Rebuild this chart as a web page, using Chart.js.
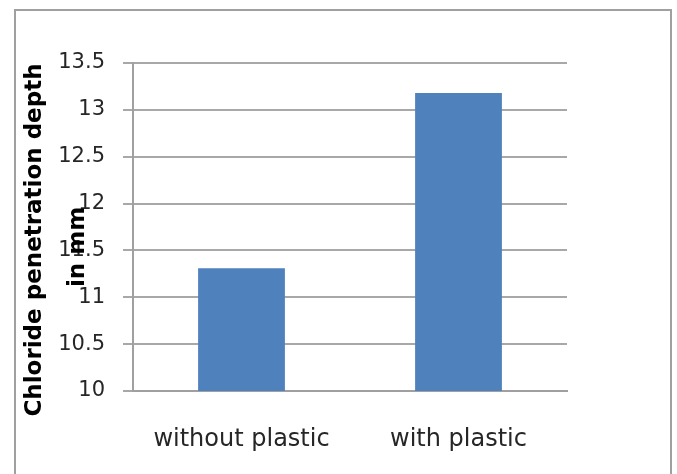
<!DOCTYPE html>
<html>
<head>
<meta charset="utf-8">
<script src="https://cdn.jsdelivr.net/npm/chart.js@4"></script>
<style>
  html, body { margin: 0; padding: 0; background: #fff; }
  #wrap { position: relative; width: 677px; height: 474px; overflow: hidden; }
  #frame { position: absolute; left: 14px; top: 9px; width: 658px; height: 480px;
           border: 2px solid #a0a0a0; box-sizing: border-box; pointer-events: none; }
  canvas { position: absolute; left: 0; top: 0; }
</style>
</head>
<body>
<div id="wrap">
  <canvas id="c" width="677" height="474"></canvas>
  <div id="frame"></div>
</div>
<script>
// Chloride penetration depth for concrete with and without plastic
const categories = ['without plastic', 'with plastic'];
const depthValues = [11.31, 13.18];
const yTickValues = [10, 10.5, 11, 11.5, 12, 12.5, 13, 13.5];
const yTitleLines = ['Chloride penetration depth', 'in mm'];

const FONT = "'DejaVu Sans', 'Liberation Sans', sans-serif";

// Rotated two-line axis title, drawn over the tick labels area
const yTitlePlugin = {
  id: 'yTitle',
  afterDraw(chart) {
    const { ctx, chartArea } = chart;
    const mid = (chartArea.top + chartArea.bottom) / 2;
    const spots = [
      { x: chartArea.left - 98, y: mid + 13 },
      { x: chartArea.left - 55, y: mid + 20 }
    ];
    ctx.save();
    ctx.fillStyle = '#000';
    ctx.font = 'bold 23px ' + FONT;
    ctx.textAlign = 'center';
    ctx.textBaseline = 'middle';
    yTitleLines.forEach((line, i) => {
      ctx.save();
      ctx.translate(spots[i].x, spots[i].y);
      ctx.rotate(-Math.PI / 2);
      ctx.fillText(line, 0, 0);
      ctx.restore();
    });
    ctx.restore();
  }
};

new Chart(document.getElementById('c'), {
  type: 'bar',
  data: {
    labels: categories,
    datasets: [{
      data: depthValues,
      backgroundColor: '#4f81bd',
      borderWidth: 0,
      barPercentage: 0.4,
      categoryPercentage: 1.0
    }]
  },
  options: {
    responsive: false,
    animation: false,
    layout: { padding: { left: 0, right: 110, top: 63, bottom: 0 } },
    plugins: { legend: { display: false }, tooltip: { enabled: false } },
    scales: {
      x: {
        grid: { display: false, drawTicks: false },
        border: { display: true, color: '#a0a0a0', width: 2 },
        ticks: { color: '#262626', font: { family: FONT, size: 24 }, padding: 34 },
        afterFit(scale) { scale.height = 83; }
      },
      y: {
        min: 10,
        max: 13.5,
        afterBuildTicks(scale) { scale.ticks = yTickValues.map(v => ({ value: v })); },
        grid: { color: '#a8a8a8', lineWidth: 2, tickLength: 10, drawTicks: true },
        border: { display: true, color: '#a0a0a0', width: 2 },
        ticks: { color: '#262626', font: { family: FONT, size: 21 }, padding: 18,
                 callback: v => String(v) },
        afterFit(scale) { scale.width = 133; }
      }
    }
  },
  plugins: [yTitlePlugin]
});
</script>
</body>
</html>
